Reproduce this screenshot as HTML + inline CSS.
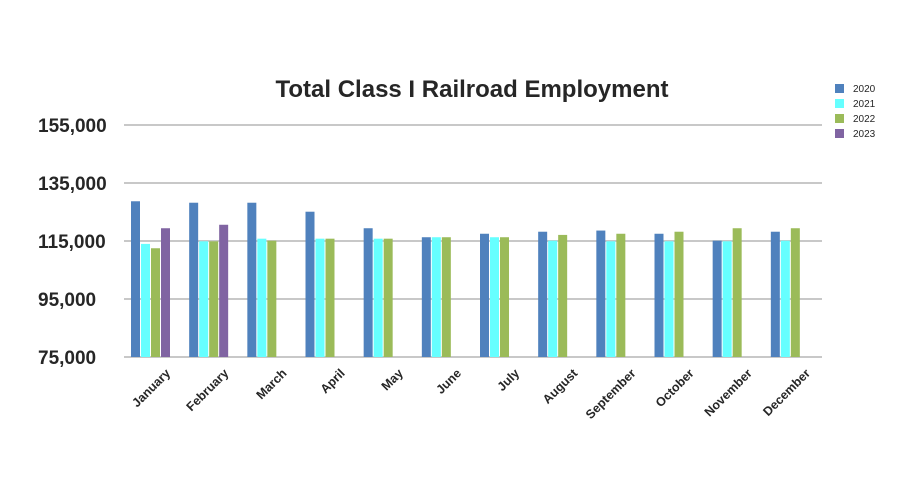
<!DOCTYPE html>
<html><head><meta charset="utf-8"><style>
body{margin:0;background:#fff;}
svg{display:block;font-family:"Liberation Sans",sans-serif;}
</style></head><body>
<svg id="chart" width="900" height="500" viewBox="0 0 900 500">
<text x="472" y="97" text-anchor="middle" font-size="24" font-weight="bold" fill="#262626">Total Class I Railroad Employment</text>
<g id="grid"></g><g id="bars"></g><g id="xlabels"></g><g id="legend"></g>
</svg>
<script>
const categories=["January","February","March","April","May","June","July","August","September","October","November","December"];
const s2020=[128700,128200,128200,125100,119400,116300,117500,118200,118600,117500,115100,118200];
const s2021=[114000,114900,115800,115800,115800,116300,116300,115100,114900,114900,114900,115100];
const s2022=[112500,114900,115100,115800,115800,116300,116300,117100,117500,118200,119400,119400];
const s2023=[119400,120600,null,null,null,null,null,null,null,null,null,null];
const seriesNames=["2020","2021","2022","2023"];
const yTicks=[75000,95000,115000,135000,155000];
const colors=["#4f81bd","#66ffff","#9bbb59","#8064a2"];
const NS="http://www.w3.org/2000/svg";
const x0=124,x1=822,yMin=75000,yMax=155000,yB=357,yT=125;
const y=v=>yB-(v-yMin)/(yMax-yMin)*(yB-yT);
const bw=(x1-x0)/categories.length;
function mk(t,a,p){const e=document.createElementNS(NS,t);for(const k in a)e.setAttribute(k,a[k]);p.appendChild(e);return e;}
const grid=document.getElementById('grid');
yTicks.forEach(t=>{
 const l=mk('line',{x1:x0,x2:x1,y1:y(t),y2:y(t),stroke:'#c8c8c8','stroke-width':2},grid);
 
 
 const tx=mk('text',{x:38,y:y(t)+7,'font-size':19,'font-weight':'bold',fill:'#262626'},grid);
 tx.textContent=t.toLocaleString('en-US');
 
 
});
const bars=document.getElementById('bars');
const all=[s2020,s2021,s2022,s2023];
categories.forEach((c,i)=>{
 all.forEach((s,j)=>{
  if(s[i]==null)return;
  const bx=x0+i*bw+7+j*10;
  const r=mk('rect',{x:bx,y:y(s[i]),width:9,height:yB-y(s[i]),fill:colors[j]},bars);
  
  
 });
 const cx=x0+i*bw+bw/2+18;
 const t=mk('text',{x:cx,y:374,'font-size':12.5,'font-weight':'bold',fill:'#262626','text-anchor':'end',transform:`rotate(-45 ${cx} 374)`},document.getElementById('xlabels'));
 t.textContent=c;
 
 
});
const lg=document.getElementById('legend');
seriesNames.forEach((n,j)=>{
 const g=mk('g',{},lg);
 
 
 mk('rect',{x:835,y:84+j*15,width:9,height:9,fill:colors[j]},g);
 const t=mk('text',{x:853,y:92+j*15,'font-size':10,fill:'#262626'},g);
 t.textContent=n;
});
</script>
</body></html>
